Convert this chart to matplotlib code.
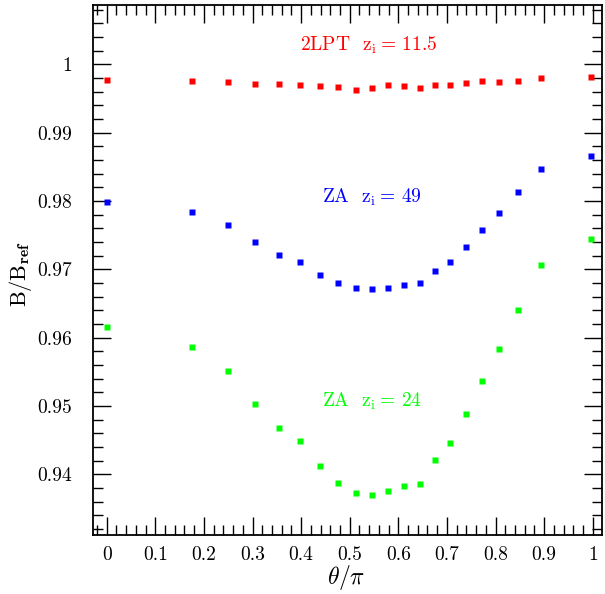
import matplotlib
matplotlib.use("Agg")
import matplotlib.pyplot as plt
from matplotlib.ticker import MultipleLocator, FuncFormatter

plt.rcParams['font.family'] = ['cmr10', 'DejaVu Serif']
plt.rcParams['mathtext.fontset'] = 'cm'
plt.rcParams['axes.formatter.use_mathtext'] = True

theta = [0.0, 0.1755, 0.2497, 0.3045, 0.3539, 0.3971, 0.4383, 0.4753, 0.5123,
         0.5453, 0.5788, 0.6111, 0.6440, 0.6755, 0.7058, 0.7387, 0.7722, 0.8066,
         0.8457, 0.8930, 0.9959]

lpt2_z11 = [0.9977, 0.9976, 0.99745, 0.99716, 0.99716, 0.99697, 0.99687, 0.99668,
            0.99628, 0.99657, 0.99697, 0.99678, 0.99657, 0.99697, 0.99697, 0.99731,
            0.99755, 0.99745, 0.9976, 0.99804, 0.99818]

za_z49 = [0.97988, 0.97842, 0.97652, 0.97398, 0.97212, 0.97110, 0.96920, 0.96794,
          0.96729, 0.96710, 0.96729, 0.96773, 0.96802, 0.96978, 0.97110, 0.97329,
          0.97578, 0.97827, 0.98135, 0.98467, 0.98658]

za_z24 = [0.96162, 0.95869, 0.95514, 0.95026, 0.94679, 0.94484, 0.94114, 0.93874,
          0.93728, 0.93698, 0.93757, 0.93826, 0.93860, 0.94206, 0.94460, 0.94884,
          0.95367, 0.95831, 0.96407, 0.97062, 0.97447]

fig = plt.figure(figsize=(6.05, 5.94), dpi=100)
ax = fig.add_axes([0.1532, 0.0993, 0.995 - 0.1532, 0.9916 - 0.0993])

ms = 4.2
ax.plot(theta, lpt2_z11, 's', color='#ff0000', ms=ms, mec='none')
ax.plot(theta, za_z49, 's', color='#0000ff', ms=ms, mec='none')
ax.plot(theta, za_z24, 's', color='#00ff00', ms=ms, mec='none')

ax.text(0.540, 1.00195, r'2LPT  z$_\mathrm{i}\!$ = 11.5', color='#ff0000', fontsize=14,
        ha='center', va='baseline')
ax.text(0.5453, 0.97969, r'ZA  z$_\mathrm{i}\!$ = 49', color='#0000ff', fontsize=14,
        ha='center', va='baseline')
ax.text(0.5453, 0.94982, r'ZA  z$_\mathrm{i}\!$ = 24', color='#00ff00', fontsize=14,
        ha='center', va='baseline')

ax.set_xlim(-0.0288, 1.019)
ax.set_ylim(0.9311, 1.0087)

ax.xaxis.set_major_locator(MultipleLocator(0.1))
ax.xaxis.set_minor_locator(MultipleLocator(0.02))
ax.yaxis.set_major_locator(MultipleLocator(0.01))
ax.yaxis.set_minor_locator(MultipleLocator(0.002))

def fmt(v, pos):
    return ('%.2f' % v).rstrip('0').rstrip('.')
ax.xaxis.set_major_formatter(FuncFormatter(fmt))
ax.yaxis.set_major_formatter(FuncFormatter(fmt))

ax.tick_params(which='both', direction='in', top=True, right=True, width=1, labelsize=14)
ax.tick_params(which='major', length=13)
ax.tick_params(which='minor', length=7)
ax.tick_params(axis='x', pad=8)
ax.tick_params(axis='y', pad=15)
for s in ax.spines.values():
    s.set_linewidth(1.3)

ax.set_xlabel(r'$\theta/\pi$', fontsize=17)
ax.set_ylabel(r'B/B$_\mathbf{ref}$', fontsize=16)
ax.xaxis.set_label_coords(0.498, -0.081)
ax.yaxis.set_label_coords(-0.1408, 0.493)
ax.xaxis.label.set_va('center')
ax.yaxis.label.set_va('center')

fig.savefig('out.png', dpi=100)
